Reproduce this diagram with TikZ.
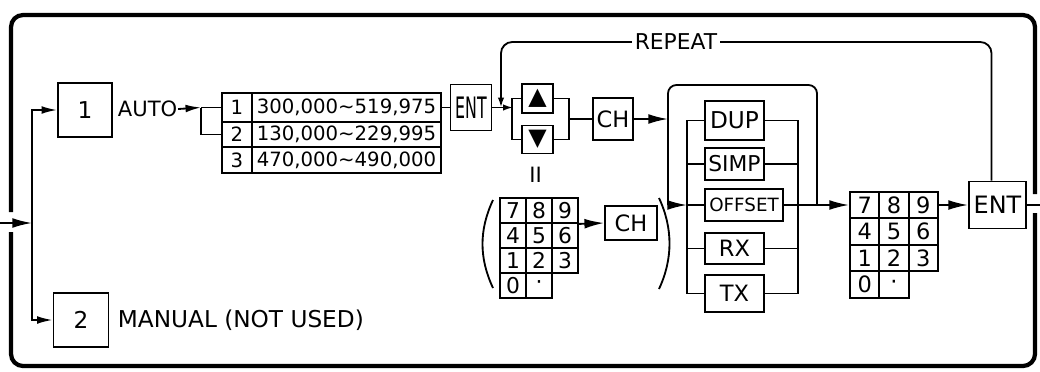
\documentclass[tikz,border=0pt]{standalone}
\usepackage{fontspec}
\usepackage{graphicx}
\setmainfont{DejaVu Sans}
\usetikzlibrary{arrows.meta}
\begin{document}
\begin{tikzpicture}[x=0.025cm,y=-0.025cm, line width=1.3pt,
  wh/.style 2 args={minimum width=#1*0.025cm, minimum height=#2*0.025cm},
  box/.style={draw, inner sep=0pt, line width=1.3pt},
  fs/.style={font=\fontsize{#1}{#1}\selectfont},
  arr/.style={-{Latex[length=14pt,width=7pt]}},
  marr/.style={-{Latex[length=11pt,width=5.5pt]}},
  sarr/.style={-{Latex[length=7pt,width=4.5pt]}},
  frame/.style={line width=3pt, rounded corners=0.3cm},
  keyA/.style={box, wh={26}{25}, fs=15.5},
  keyB/.style={box, wh={29.3}{26.5}, fs=16}]
\useasboundingbox (0,0) rectangle (1040,371);

% outer frame
\draw[frame] (11,212) -- (11,15) -- (1035,15) -- (1035,194);
\draw[frame] (1035,213) -- (1035,366) -- (11,366) -- (11,232);

% mode selection
\node[box,wh={54}{54},fs=16.5] (b1) at (85,110) {1};
\node[box,wh={55}{54},fs=16.5] (b2) at (81,320) {2};
\node[anchor=west, inner sep=0pt, fs=15] (auto) at (117,109) {AUTO};
\node[anchor=west, inner sep=0pt, fs=16.5] (man) at (117,320) {MANUAL (NOT USED)};
\coordinate (in) at (0,223);
\coordinate (sp) at (32,223);
\draw[arr] (in) -- (sp);
\draw[marr] (sp) |- (b1.west);
\draw[marr] (sp) |- (b2.west);

% band table
\node[box,wh={30}{29},fs=14] (n1) at (237,107.5) {1};
\node[box,wh={189}{29},fs=14] (r1) at (346.5,107.5) {300,000\textasciitilde 519,975};
\node[box,wh={30}{25},fs=14] (n2) at (237,134.5) {2};
\node[box,wh={189}{25},fs=14] (r2) at (346.5,134.5) {130,000\textasciitilde 229,995};
\node[box,wh={30}{26},fs=14] (n3) at (237,160) {3};
\node[box,wh={189}{26},fs=14] (r3) at (346.5,160) {470,000\textasciitilde 490,000};
\coordinate (br) at (201,107.5);
\draw[marr] (auto.east) -- (br);
\draw (br) -- (n1.west);
\draw (br) |- (n2.west);

% ENT and up/down keys
\node[box,wh={41}{46},fs=15] (e1) at (471,107.5) {\scalebox{0.75}[1.4]{ENT}};
\draw (r1.east) -- (e1.west);
\coordinate (bl) at (513,107.5);
\draw[sarr] (e1.east) -- (bl);
\node[box,wh={31}{29},fs=17] (up) at (537.5,98.5) {▲};
\node[box,wh={31}{28},fs=17] (dn) at (537.5,139.5) {▼};
\draw (up.west) -- ++(-9,0) |- (dn.west);
\draw (up.east) -- ++(15,0) |- (dn.east);
\node[box,wh={40}{42},fs=16] (c1) at (613,119) {CH};
\coordinate (brr) at (568,119);
\draw (brr) -- (c1.west);
\coordinate (bb) at (668,119);
\draw[arr] (c1.east) -- (bb);

% equivalent keypad entry
\node[fs=15, inner sep=0pt] (eq) at (535.5,175) {II};
\foreach \t/\c/\r in {7/0/0,8/1/0,9/2/0,4/0/1,5/1/1,6/2/1,1/0/2,2/1/2,3/2/2,0/0/3}
  \node[keyA] (q\t) at (513+26*\c, 210.5+25*\r) {\t};
\node[keyA] (qd) at (539,285.5) {·};
\node[box,wh={52}{34},fs=16] (c2) at (631,223) {CH};
\draw[arr] (q9.south east) -- (c2.west);
\draw (493,200) .. controls (479,230) and (479,258) .. (493,288);
\draw (659,198) .. controls (673,228) and (673,259) .. (659,289);

% big bracket
\coordinate (bbb) at (668,205);
\coordinate (bbt) at (668,85);
\coordinate (bbr) at (817,85);
\coordinate (bbe) at (817,205);
\draw[rounded corners=6] (bbb) -- (bbt) -- (bbr) -- (bbe);
\coordinate (lv) at (687,205);
\draw[arr] (bbb) -- (lv);

% duplex modes
\node[box,wh={59}{39},fs=16.5] (dup) at (734.5,120.5) {DUP};
\node[box,wh={59}{32},fs=15.5] (simp) at (734.5,164) {SIMP};
\node[box,wh={78}{32},fs=13] (off) at (744,205) {OFFSET};
\node[box,wh={59}{31},fs=16] (rx) at (734.5,248.5) {RX};
\node[box,wh={59}{37},fs=16] (tx) at (734.5,293.5) {TX};
\draw (dup.west) -- ++(-17.5,0) |- (tx.west);
\draw (simp.west) -- ++(-17.5,0);
\draw (lv) -- (off.west);
\draw (rx.west) -- ++(-17.5,0);
\draw (dup.east) -- ++(33,0) |- (tx.east);
\draw (simp.east) -- ++(33,0);
\draw (rx.east) -- ++(33,0);

% second keypad and ENT
\foreach \t/\c/\r in {7/0/0,8/1/0,9/2/0,4/0/1,5/1/1,6/2/1,1/0/2,2/1/2,3/2/2,0/0/3}
  \node[keyB] (k\t) at (864.65+29.3*\c, 205+26.5*\r) {\t};
\node[keyB] (kd) at (893.95,284.5) {·};
\draw[arr] (off.east) -- (k7.west);
\node[box,wh={57}{47},fs=17] (e2) at (997.5,205) {ENT};
\draw[arr] (k9.east) -- (e2.west);
\coordinate (out) at (1040,205);
\draw (e2.east) -- (out);

% repeat loop
\coordinate (rt) at (501,107.5);
\coordinate (rc) at (501,42);
\draw[sarr, rounded corners=8] ([xshift=-0.15cm]e2.north) |- (rc) -- (rt);
\node[fill=white, fs=15.5, inner sep=2pt] (rep) at (676,42) {REPEAT};
\end{tikzpicture}
\end{document}
